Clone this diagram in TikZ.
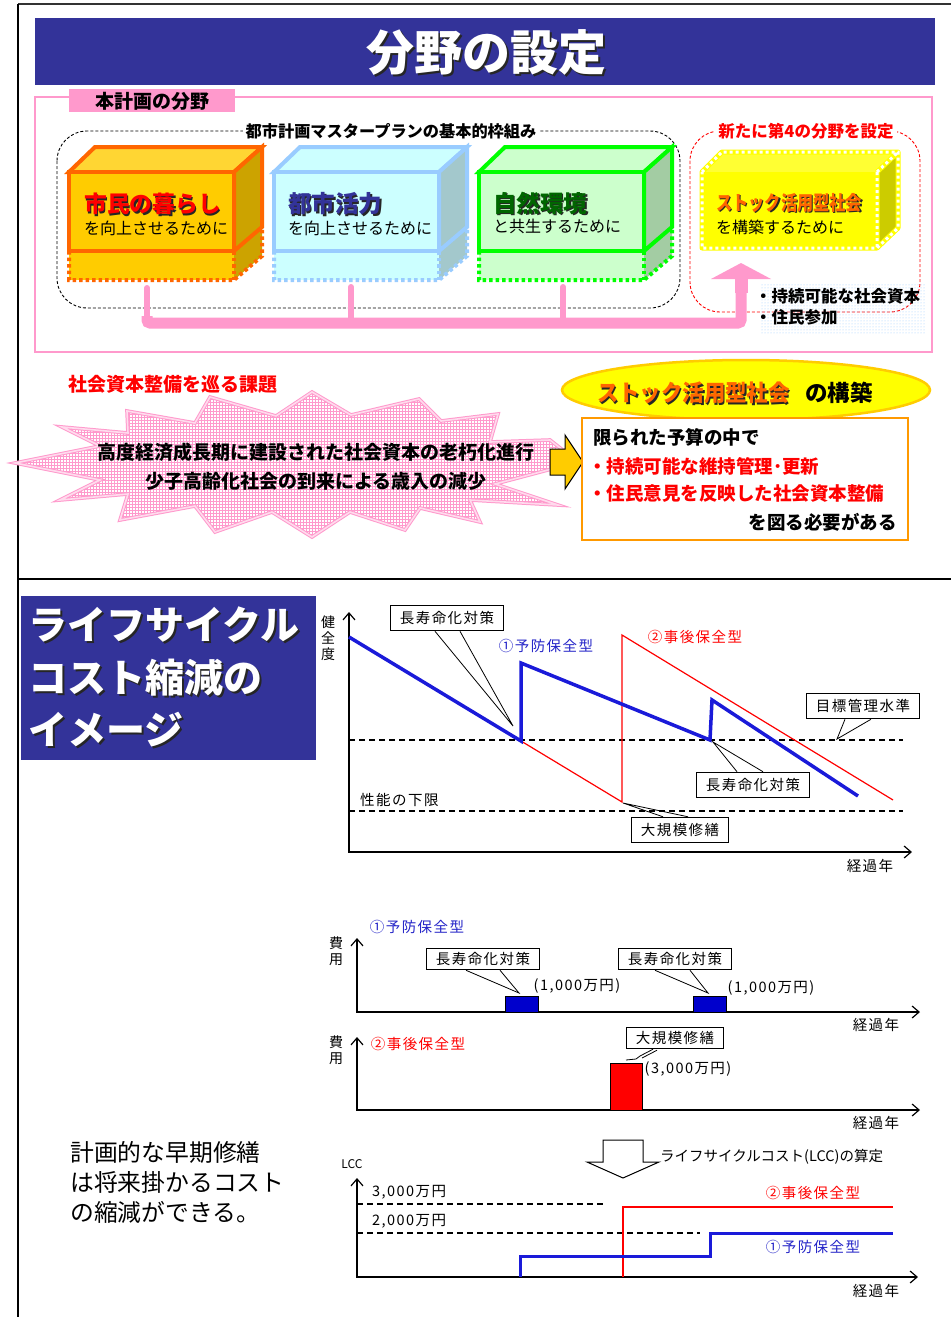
\documentclass[tikz,border=0pt]{standalone}
\usepackage{fontspec}
\setmainfont{Noto Sans CJK JP}
\newfontfamily\gfam[LetterSpace=10]{Noto Sans CJK JP}
\usetikzlibrary{arrows.meta,patterns,calc}

\definecolor{navy}{HTML}{333399}
\definecolor{rosa}{HTML}{FF99CC}
\definecolor{orframe}{HTML}{FF6600}
\definecolor{gold}{HTML}{FFCC00}
\definecolor{goldtop}{HTML}{FFD633}
\definecolor{goldside}{HTML}{CCA300}
\definecolor{skyline}{HTML}{99CCFF}
\definecolor{skyfill}{HTML}{CCFFFF}
\definecolor{skyside}{HTML}{A3C8CC}
\definecolor{greenline}{HTML}{00FF00}
\definecolor{mint}{HTML}{CCFFCC}
\definecolor{mintside}{HTML}{A3CCA3}
\definecolor{forest}{HTML}{006600}
\definecolor{ylw}{HTML}{FFFF00}
\definecolor{ylwtop}{HTML}{FFFF33}
\definecolor{ylwside}{HTML}{CCCC00}
\definecolor{amber}{HTML}{FF9900}
\definecolor{lineblue}{HTML}{1A1AD9}
\definecolor{textblue}{HTML}{2424C8}
\definecolor{barblue}{HTML}{0000CC}

\tikzset{
  every node/.style={inner sep=0pt},
  frame/.style={line width=4pt, line join=miter},
  skirt/.style={line width=4pt, dash pattern=on 3.5pt off 3pt},
  gtext/.style={font=\gfam\fontsize{14.5}{16}\selectfont},
  callbox/.style={draw, line width=1.1pt, fill=white, inner xsep=9pt, inner ysep=6pt, font=\gfam\fontsize{14.5}{16}\selectfont},
  axisline/.style={line width=1.2pt, {Straight Barb[length=7pt,width=12pt]}-{Straight Barb[length=7pt,width=12pt]}},
  lvl/.style={line width=1.2pt, dash pattern=on 6pt off 4pt},
  ptr/.style={line width=0.8pt},
}

% text with a dark drop shadow: name, position, anchor, font, colour, text, offset
\newcommand\shadowlabel[7]{%
  \node[anchor=#3, text=black!85] at ($(#2)+(#7,#7)$) {#4#6};
  \node[anchor=#3, text=#5] (#1) at (#2) {#4#6};}

% box with framed upper part and dotted skirt:
% x, y, width, framed height, skirt height, frame colour, front, top, side
\newcommand\cubebox[9]{%
  \fill[#7] (#1,#2+#4) rectangle (#1+#3,#2+#4+#5);
  \fill[#9] (#1+#3,#2+#4) -- (#1+#3+28,#2+#4-24) -- (#1+#3+28,#2+#4+#5-24) -- (#1+#3,#2+#4+#5) -- cycle;
  \draw[#6, skirt] (#1,#2+#4) -- (#1,#2+#4+#5) -- (#1+#3,#2+#4+#5) -- (#1+#3+28,#2+#4+#5-24) -- (#1+#3+28,#2+#4-24);
  \draw[#6, skirt] (#1+#3,#2+#4) -- (#1+#3,#2+#4+#5);
  \filldraw[fill=#8, draw=#6, frame] (#1,#2) -- (#1+26,#2-25) -- (#1+#3+28,#2-25) -- (#1+#3,#2) -- cycle;
  \filldraw[fill=#9, draw=#6, frame] (#1+#3,#2) -- (#1+#3+28,#2-25) -- (#1+#3+28,#2+#4-24) -- (#1+#3,#2+#4) -- cycle;
  \filldraw[fill=#7, draw=#6, frame] (#1,#2) rectangle (#1+#3,#2+#4);}

\begin{document}
\begin{tikzpicture}[x=1pt,y=-1pt]
\useasboundingbox (0,0) rectangle (951,1317);
\fill[white] (0,0) rectangle (951,1317);

% page frame
\draw[line width=1.5pt, black!80] (18,4) -- (951,4);
\draw[line width=2pt] (18,4) -- (18,1317);
\draw[line width=1.5pt] (18,579) -- (951,579);

% ---------- upper half: fields ----------
\fill[navy] (35,18) rectangle (935,85);
\shadowlabel{title}{486,52}{center}{\fontsize{48}{48}\selectfont\bfseries}{white}{分野の設定}{2.5}

\draw[rosa, line width=2.5pt] (35,97) rectangle (932,352);
\fill[rosa] (69,89) rectangle (235,112);
\node[font=\fontsize{19}{19}\selectfont\bfseries] (tab) at (152,101) {本計画の分野};

\draw[line width=0.9pt, dash pattern=on 3pt off 2pt, rounded corners=30pt] (57,131) rectangle (680,308);
\node[fill=white, inner xsep=3pt, inner ysep=1pt, font=\fontsize{16.2}{17}\selectfont\bfseries] (masterplan) at (391,131) {都市計画マスタープランの基本的枠組み};

\draw[red, line width=0.9pt, dash pattern=on 3pt off 2pt, rounded corners=30pt] (690,131) rectangle (920,312);
\node[fill=white, inner xsep=3pt, inner ysep=1pt, text=red, font=\fontsize{16.5}{17}\selectfont\bfseries] (newfield) at (806,131) {新たに第4の分野を設定};

% pink link from the three fields to the fourth
\coordinate (f1) at (147,288);
\coordinate (f2) at (351,287);
\coordinate (f3) at (563,287);
\coordinate (f4) at (741,263);
\draw[rosa, line width=11pt, rounded corners=3pt] (f1 |- 0,316) -- (f1 |- 0,323) -- (f4 |- 0,323) -- ($(f4)+(0,14)$);
\draw[rosa, line width=6pt, line cap=round] (f1) -- (f1 |- 0,318);
\draw[rosa, line width=6pt, line cap=round] (f2) -- (f2 |- 0,318);
\draw[rosa, line width=6pt, line cap=round] (f3) -- (f3 |- 0,318);
\draw[rosa, line width=13pt] ($(f4)+(0,30)$) -- ($(f4)+(0,14)$);
\fill[rosa] ($(f4)+(-30,16)$) -- (f4) -- ($(f4)+(30,16)$) -- cycle;

% three existing fields
\cubebox{69}{172}{165}{79}{29}{orframe}{gold}{goldtop}{goldside}
\cubebox{274}{172}{165}{79}{29}{skyline}{skyfill}{skyfill}{skyside}
\cubebox{479}{172}{165}{79}{29}{greenline}{mint}{mint}{mintside}

\shadowlabel{life}{84,204}{west}{\fontsize{22.8}{24}\selectfont\bfseries}{red}{市民の暮らし}{1.5}
\node[anchor=west, font=\fontsize{16}{16}\selectfont] (lifesub) at (84,228) {を向上させるために};
\shadowlabel{vitality}{288,204}{west}{\fontsize{23.5}{24}\selectfont\bfseries}{navy}{都市活力}{1.5}
\node[anchor=west, font=\fontsize{16}{16}\selectfont] (vitalitysub) at (288,228) {を向上させるために};
\shadowlabel{nature}{493,203}{west}{\fontsize{23.5}{24}\selectfont\bfseries}{forest}{自然環境}{1.5}
\node[anchor=west, font=\fontsize{16}{16}\selectfont] (naturesub) at (493,226) {と共生するために};

% fourth field
\fill[ylwtop] (702,172) -- (722,152) -- (898,152) -- (877,172) -- cycle;
\fill[ylwside] (877,172) -- (898,152) -- (898,228) -- (877,248) -- cycle;
\fill[ylw] (702,172) rectangle (877,248);
\draw[ylw, line width=5pt, line join=round] (702,172) -- (722,152) -- (898,152) -- (898,228) -- (877,248) -- (702,248) -- cycle (877,172) -- (898,152) (877,172) -- (877,248);
\draw[white, line width=3pt, dash pattern=on 3pt off 3pt] (702,172) -- (722,152) -- (898,152) -- (898,228) -- (877,248) -- (702,248) -- cycle (877,172) -- (898,152) (877,172) -- (877,248);
\shadowlabel{stock}{716,203}{west}{\fontsize{20}{20}\selectfont\bfseries}{orframe}{\scalebox{0.81}[1]{ストック活用型社会}}{1.3}
\node[anchor=west, font=\fontsize{16}{16}\selectfont] (stocksub) at (716,227) {を構築するために};

\fill[pattern=dots, pattern color=skyline] (760,283) rectangle (925,333);
\node[anchor=west, font=\fontsize{16.5}{17}\selectfont\bfseries] (capital) at (755,296) {・持続可能な社会資本};
\node[anchor=west, font=\fontsize{16.5}{17}\selectfont\bfseries] (residents) at (755,317) {・住民参加};

% ---------- issues and response ----------
\node[anchor=west, text=red, font=\fontsize{19}{19}\selectfont\bfseries] (issues) at (68,384) {社会資本整備を巡る課題};

\fill[white] (15,463) -- (100,446) -- (62,427) -- (128,433) -- (127,411) -- (195,423) -- (210,397) -- (276,416) -- (312,392) -- (351,415) -- (419,399) -- (441,421) -- (498,414) -- (490,442) -- (550,440) -- (578,462) -- (495,484) -- (558,505) -- (470,500) -- (480,522) -- (420,508) -- (405,530) -- (350,512) -- (312,537) -- (272,512) -- (215,532) -- (195,506) -- (120,520) -- (128,494) -- (60,500) -- (100,480) -- cycle;
\draw[pattern=grid, pattern color=rosa, draw=rosa, line width=1pt, double=rosa!35, double distance=1.6pt, line join=miter]
  (15,463) -- (100,446) -- (62,427) -- (128,433) -- (127,411) -- (195,423) -- (210,397) -- (276,416) -- (312,392) -- (351,415) -- (419,399) -- (441,421) -- (498,414) -- (490,442) -- (550,440) -- (578,462) -- (495,484) -- (558,505) -- (470,500) -- (480,522) -- (420,508) -- (405,530) -- (350,512) -- (312,537) -- (272,512) -- (215,532) -- (195,506) -- (120,520) -- (128,494) -- (60,500) -- (100,480) -- cycle;
\node[font=\fontsize{19}{19}\selectfont\bfseries] (aging) at (316,452) {高度経済成長期に建設された社会資本の老朽化進行};
\node[font=\fontsize{19}{19}\selectfont\bfseries] (revenue) at (316,481) {少子高齢化社会の到来による歳入の減少};

\filldraw[fill=gold, draw=black, line width=1pt, line join=miter] (550,449) -- (565,449) -- (565,435) -- (583,462) -- (565,489) -- (565,475) -- (550,475) -- cycle;

\filldraw[fill=ylw, draw=gold, line width=2.5pt] (746,390) ellipse (184 and 30);
\shadowlabel{stockgoal}{597,393}{west}{\fontsize{23}{23}\selectfont\bfseries}{orframe}{\scalebox{0.93}[1]{ストック活用型社会}}{1.5}
\node[anchor=west, font=\fontsize{22.5}{23}\selectfont\bfseries] (build) at (805,393) {の構築};

\draw[amber, line width=2.5pt, fill=white] (582,418) rectangle (908,540);
\node[anchor=west, font=\fontsize{18.5}{19}\selectfont\bfseries] (budget) at (593,437) {限られた予算の中で};
\node[anchor=west, text=red, font=\fontsize{18.5}{19}\selectfont\bfseries] (upkeep) at (588,466) {・持続可能な維持管理･更新};
\node[anchor=west, text=red, font=\fontsize{18.5}{19}\selectfont\bfseries] (opinion) at (588,494) {・住民意見を反映した社会資本整備};
\node[anchor=east, font=\fontsize{18.5}{19}\selectfont\bfseries] (need) at (897,522) {を図る必要がある};

% ---------- lower half: life cycle cost ----------
\fill[navy] (21,596) rectangle (316,760);
\shadowlabel{lcc1}{28,625}{west}{\fontsize{39}{39}\selectfont\bfseries}{white}{ライフサイクル}{2}
\shadowlabel{lcc2}{28,678}{west}{\fontsize{39}{39}\selectfont\bfseries}{white}{コスト縮減の}{2}
\shadowlabel{lcc3}{28,730}{west}{\fontsize{39}{39}\selectfont\bfseries}{white}{イメージ}{2}

\node[anchor=west, align=left, font=\fontsize{23.8}{30}\selectfont] (summary) at (70,1182) {計画的な早期修繕\\は将来掛かるコスト\\の縮減ができる。};

% soundness over time
\coordinate (o1) at (349,852);
\draw[axisline] (349,612) -- (o1) -- (912,852);
\node[align=center, font=\fontsize{14}{16}\selectfont] (soundness) at (328,638) {健\\全\\度};
\node[gtext] (years1) at (870,866) {経過年};
\draw[lvl] (349,740) -- (903,740);
\draw[lvl] (349,811) -- (903,811);
\node[gtext, anchor=west] (lowerlimit) at (360,800) {性能の下限};

\draw[red, line width=1.2pt] (521,741) -- (622,802) -- (622,635) -- (893,800);
\draw[lineblue, line width=3.5pt, line join=miter] (349,637) -- (521,741) -- (521,663) -- (710,740) -- (712,700) -- (858,796);

\node[callbox] (ext1) at (447,618) {長寿命化対策};
\coordinate (ext1tip) at (513,726);
\draw[ptr] ($(ext1.south)+(-12,0)$) -- (ext1tip) -- ($(ext1.south)+(13,0)$);
\node[callbox] (target) at (863,706) {目標管理水準};
\coordinate (targettip) at (837,739);
\draw[ptr] ($(target.south)+(-18,0)$) -- (targettip) -- ($(target.south)+(8,0)$);
\node[callbox] (ext2) at (753,785) {長寿命化対策};
\coordinate (ext2tip) at (713,742);
\draw[ptr] ($(ext2.north)+(-16,0)$) -- (ext2tip) -- ($(ext2.north)+(10,0)$);
\node[callbox] (major) at (680,830) {大規模修繕};
\coordinate (majortip) at (623,803);
\draw[ptr] ($(major.north)+(-17,0)$) -- (majortip) -- ($(major.north)+(8,0)$);

\node[gtext, text=textblue] (prev1) at (546,646) {①予防保全型};
\node[gtext, text=red] (post1) at (695,637) {②事後保全型};

% costs, preventive
\draw[axisline] (357,938) -- (357,1012) -- (920,1012);
\node[align=center, font=\fontsize{14}{16}\selectfont] (cost1) at (336,951) {費\\用};
\node[gtext, text=textblue] (prev2) at (417,927) {①予防保全型};
\node[gtext] (years2) at (876,1025) {経過年};
\filldraw[fill=barblue, draw=black, line width=1pt] (505,996) rectangle (538,1012);
\filldraw[fill=barblue, draw=black, line width=1pt] (693,996) rectangle (726,1012);
\coordinate (bar1) at (519,993);
\coordinate (bar2) at (708,993);
\node[callbox, inner ysep=4pt] (ext3) at (483,959) {長寿命化対策};
\node[callbox, inner ysep=4pt] (ext4) at (675,959) {長寿命化対策};
\draw[ptr] ($(ext3.south)+(-17,0)$) -- (bar1) -- ($(ext3.south)+(17,0)$);
\draw[ptr] ($(ext4.south)+(-20,0)$) -- (bar2) -- ($(ext4.south)+(15,0)$);
\node[gtext] (amt1) at (577,986) {(1,000万円)};
\node[gtext] (amt2) at (771,988) {(1,000万円)};

% costs, corrective
\draw[axisline] (357,1037) -- (357,1110) -- (920,1110);
\node[align=center, font=\fontsize{14}{16}\selectfont] (cost2) at (336,1050) {費\\用};
\node[gtext, text=red] (post2) at (418,1044) {②事後保全型};
\node[gtext] (years3) at (876,1123) {経過年};
\filldraw[fill=red, draw=black, line width=1pt] (610,1063) rectangle (642,1110);
\node[callbox, inner ysep=4pt] (major2) at (675,1038) {大規模修繕};
\coordinate (bar3) at (626,1060);
\draw[ptr] ($(major2.south)+(-22,0)$) -- ($(bar3)+(14,-4)$) -- ($(bar3)+(10,-1)$) -- (bar3);
\draw[ptr] ($(major2.south)+(-18,1)$) -- ($(bar3)+(16,-2)$);
\node[gtext] (amt3) at (688,1069) {(3,000万円)};

% life cycle cost
\filldraw[fill=white, draw=black, line width=1pt, line join=miter] (603,1140) -- (643,1140) -- (643,1162) -- (659,1162) -- (623,1178) -- (587,1162) -- (603,1162) -- cycle;
\node[anchor=west, font=\fontsize{14.5}{16}\selectfont] (lccnote) at (660,1157) {ライフサイクルコスト(LCC)の算定};
\node[font=\fontsize{12}{12}\selectfont] (lcclabel) at (352,1164) {LCC};
\draw[axisline] (357,1178) -- (357,1277) -- (918,1277);
\node[gtext] (years4) at (876,1291) {経過年};
\draw[lvl] (357,1204) -- (605,1204);
\draw[lvl] (357,1233) -- (700,1233);
\node[gtext, anchor=west] (lv3000) at (372,1192) {3,000万円};
\node[gtext, anchor=west] (lv2000) at (372,1221) {2,000万円};
\draw[red, line width=1.2pt] (623,1277) -- (623,1207) -- (893,1207);
\draw[lineblue, line width=3pt, line join=miter] (520,1277) -- (520,1256) -- (710,1256) -- (710,1233) -- (893,1233);
\node[gtext, text=red] (post3) at (813,1193) {②事後保全型};
\node[gtext, text=textblue] (prev3) at (813,1247) {①予防保全型};
\end{tikzpicture}
\end{document}
